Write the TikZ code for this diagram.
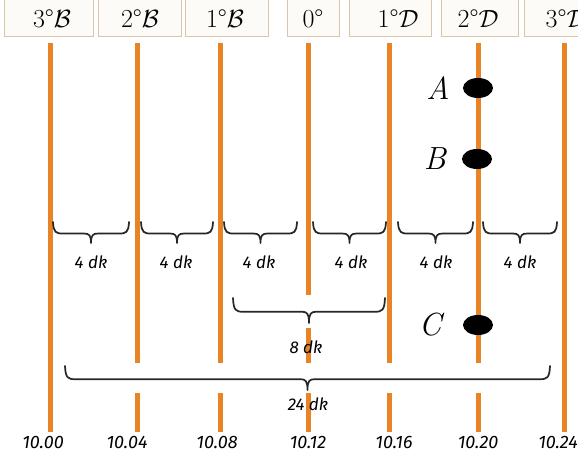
\documentclass[tikz,border=0pt]{standalone}
\usepackage{fontspec}
\newfontfamily\handsans{Fira Sans}
\usetikzlibrary{shapes.geometric}
\definecolor{lineor}{RGB}{232,131,38}
\definecolor{boxbd}{RGB}{220,196,168}
\definecolor{boxfill}{RGB}{253,251,247}
\newcommand{\hbrace}[5]{% name, x1, x2, ytop, height
  \coordinate (#1L) at (#2,#4);
  \coordinate (#1R) at (#3,#4);
  \coordinate (#1T) at ({(#2+#3)/2},{#4+#5});
  \draw[brcline] (#1L) .. controls ({#2+0.5},{#4+0.5*#5}) and ({#2+3},{#4+0.55*#5}) .. ({#2+10},{#4+0.55*#5})
     -- ({(#2+#3)/2-7},{#4+0.55*#5})
     .. controls ({(#2+#3)/2-2},{#4+0.55*#5}) and ({(#2+#3)/2},{#4+0.62*#5}) .. (#1T)
     .. controls ({(#2+#3)/2},{#4+0.62*#5}) and ({(#2+#3)/2+2},{#4+0.55*#5}) .. ({(#2+#3)/2+7},{#4+0.55*#5})
     -- ({#3-10},{#4+0.55*#5})
     .. controls ({#3-3},{#4+0.55*#5}) and ({#3-0.5},{#4+0.5*#5}) .. (#1R);
}
\begin{document}
\begin{tikzpicture}[x=1pt,y=-1pt,
  vline/.style={lineor, line width=5pt},
  hbox/.style={draw=boxbd, fill=boxfill, line width=1pt},
  htext/.style={font=\fontsize{26}{26}\selectfont, anchor=center, inner sep=0pt},
  dklab/.style={font=\handsans\fontsize{17}{17}\selectfont\itshape, anchor=center, inner sep=0pt},
  numlab/.style={font=\handsans\fontsize{18}{18}\selectfont\itshape, anchor=center, inner sep=0pt},
  ptlab/.style={font=\fontsize{32}{32}\selectfont\itshape, anchor=center, inner sep=0pt},
  dot/.style={ellipse, fill=black, minimum width=30pt, minimum height=20pt, inner sep=0pt},
  brcline/.style={line width=1.7pt, black!85, line cap=round, line join=round}
]
\useasboundingbox (0,0) rectangle (578,462);
\clip (0,0) rectangle (578,462);

% header boxes
\draw[hbox] (4,-5) rectangle (93,37);
\draw[hbox] (98,-5) rectangle (181,37);
\draw[hbox] (185,-5) rectangle (268,37);
\draw[hbox] (287,-5) rectangle (339,37);
\draw[hbox] (349,-5) rectangle (431,37);
\draw[hbox] (441,-5) rectangle (518,37);
\draw[hbox] (524,-5) rectangle (600,37);

\node[htext] (h1) at (52,19) {3°$\mathcal{B}$};
\node[htext] (h2) at (140,19) {2°$\mathcal{B}$};
\node[htext] (h3) at (225,19) {1°$\mathcal{B}$};
\node[htext] (h4) at (313,19) {0°};
\node[htext] (h5) at (398,19) {1°$\mathcal{D}$};
\node[htext] (h6) at (478,19) {2°$\mathcal{D}$};
\node[htext] (h7) at (566,19) {3°$\mathcal{D}$};

% vertical lines
\draw[vline] (50,43) -- (50,432);
\draw[vline] (137,43) -- (137,363) (137,393) -- (137,432);
\draw[vline] (220,43) -- (220,363) (220,393) -- (220,432);
\draw[vline] (308,43) -- (308,295) (308,328) -- (308,363) (308,393) -- (308,432);
\draw[vline] (389,43) -- (389,363) (389,393) -- (389,432);
\draw[vline] (478,43) -- (478,363) (478,393) -- (478,432);
\draw[vline] (564,43) -- (564,432);

% small braces
\hbrace{b1}{53}{129}{222}{21}
\hbrace{b2}{141}{213}{222}{21}
\hbrace{b3}{224}{297}{222}{21}
\hbrace{b4}{313}{386}{222}{21}
\hbrace{b5}{398}{473}{222}{21}
\hbrace{b6}{483}{557}{222}{21}

\node[dklab] (d1) at (91,262) {4 dk};
\node[dklab] (d2) at (176,262) {4 dk};
\node[dklab] (d3) at (259,262) {4 dk};
\node[dklab] (d4) at (351,262) {4 dk};
\node[dklab] (d5) at (436,262) {4 dk};
\node[dklab] (d6) at (520,262) {4 dk};

% 8 dk brace
\hbrace{b8}{233}{385}{298}{25}
\node[dklab] (d8) at (306,347) {8 dk};

% 24 dk brace
\hbrace{b24}{65}{550}{366}{24}
\node[dklab] (d24) at (308,404) {24 dk};

% points
\node[dot] (pa) at (478,88) {};
\node[dot] (pb) at (477,159) {};
\node[dot] (pc) at (478,325) {};
\node[ptlab] (la) at (438,88) {A};
\node[ptlab] (lb) at (435,159) {B};
\node[ptlab] (lc) at (430,325) {C};

% bottom labels
\node[numlab] (n1) at (43,442) {10.00};
\node[numlab] (n2) at (127,442) {10.04};
\node[numlab] (n3) at (217,442) {10.08};
\node[numlab] (n4) at (308,442) {10.12};
\node[numlab] (n5) at (394,442) {10.16};
\node[numlab] (n6) at (478,442) {10.20};
\node[numlab] (n7) at (558,442) {10.24};
\end{tikzpicture}
\end{document}
